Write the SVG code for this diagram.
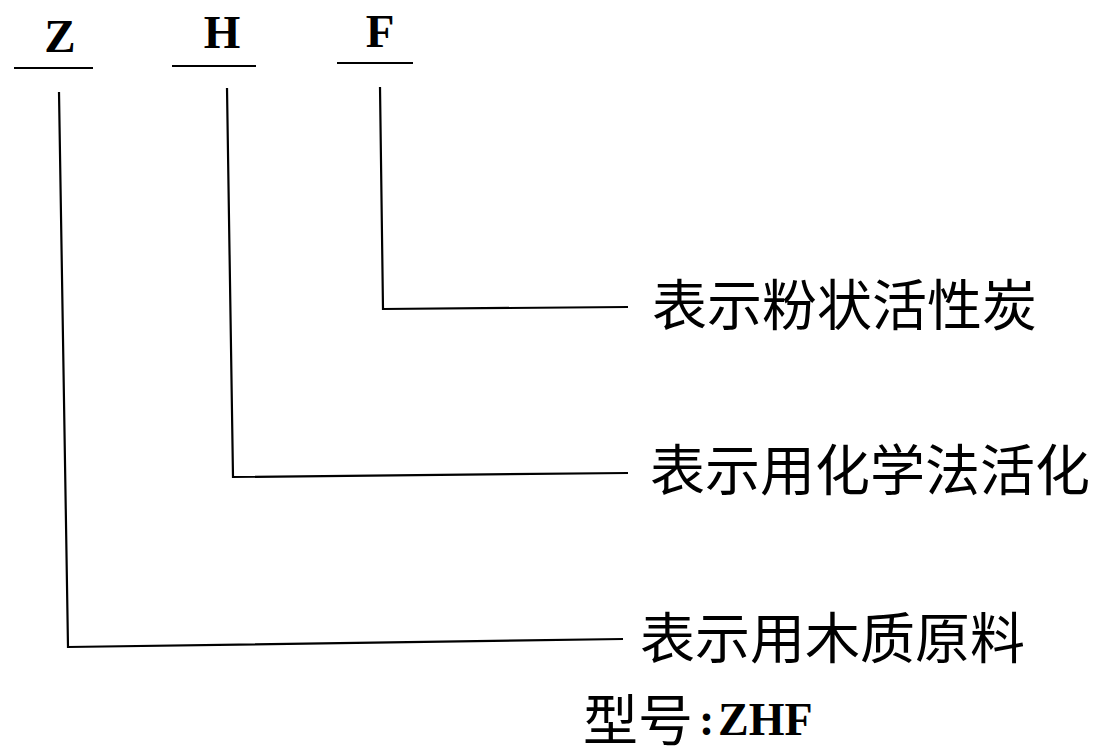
<svg xmlns="http://www.w3.org/2000/svg" width="1098" height="754" viewBox="0 0 1098 754">
<style>
.lt{font-family:"Liberation Serif","Noto Sans CJK SC",serif;font-weight:bold;font-size:47px;fill:#000}
.cn{font-family:"Noto Sans CJK SC",sans-serif;font-size:55px;fill:#000}
.ln{stroke:#000;stroke-width:2.2;fill:none}
</style>
<rect width="1098" height="754" fill="#fff"/>
<g id="node-Z"><text class="lt" x="60" y="52" text-anchor="middle">Z</text><line class="ln" x1="14" y1="68" x2="93" y2="68"/></g>
<g id="node-H"><text class="lt" x="222" y="48" text-anchor="middle">H</text><line class="ln" x1="172" y1="66" x2="256" y2="66"/></g>
<g id="node-F"><text class="lt" x="380" y="47" text-anchor="middle">F</text><line class="ln" x1="337" y1="63" x2="413" y2="63"/></g>
<g id="label-F"><text class="cn" x="652" y="325">表示粉状活性炭</text></g>
<g id="label-H"><text class="cn" x="650" y="490">表示用化学法活化</text></g>
<g id="label-Z"><text class="cn" x="640" y="658">表示用木质原料</text></g>
<g id="caption"><text class="cn" x="583" y="740" font-size="50">型号<tspan x="699" y="735" font-family="Liberation Serif,serif" font-weight="bold" font-size="46">:</tspan><tspan x="718" y="735" font-family="Liberation Serif,serif" font-weight="bold" font-size="46">ZHF</tspan></text></g>
<g id="connectors">
<polyline class="ln" points="59,92 68,647 623,639"/>
<polyline class="ln" points="227,88 233,477 628,473"/>
<polyline class="ln" points="380,87 383,309 628,307"/>
</g>
</svg>
